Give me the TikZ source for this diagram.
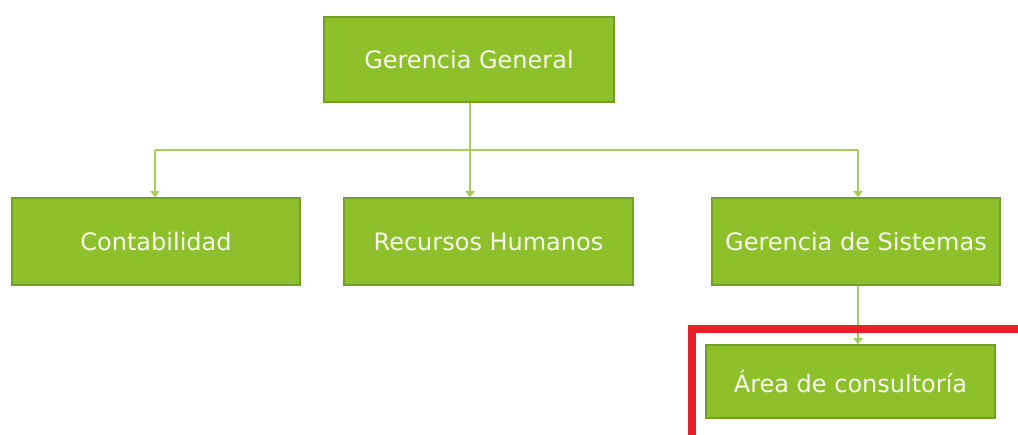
\documentclass[tikz,border=0pt]{standalone}
\usepackage{fontspec}
\setmainfont{DejaVu Sans}
\usetikzlibrary{calc, arrows.meta}

\definecolor{boxgreen}{HTML}{8DC02A}
\definecolor{boxedge}{HTML}{74A021}
\definecolor{linegreen}{HTML}{A6CD5A}
\definecolor{marcred}{HTML}{E8202A}

\tikzset{
	orgbox/.style={rectangle, fill=boxgreen, draw=boxedge, line width=1.5pt, text=white!92!boxgreen, font=\fontsize{24}{28}\selectfont, inner sep=0pt},
	conn/.style={-{Triangle[width=9pt,length=6pt]}, line width=1.4pt, color=linegreen},
	bus/.style={-, line width=1.4pt, color=linegreen}
}

\begin{document}
\begin{tikzpicture}[x=1pt, y=1pt]
	
	\useasboundingbox (0,0) rectangle (1018,434);
	
	\node[orgbox, minimum width=290pt, minimum height=85pt] (gerencia) at (469,374.5) {Gerencia General};
	
	\node[orgbox, minimum width=288pt, minimum height=87pt] (contab) at (156,192.5) {Contabilidad};
	\node[orgbox, minimum width=289pt, minimum height=87pt] (rrhh) at (488.5,192.5) {Recursos Humanos};
	\node[orgbox, minimum width=288pt, minimum height=87pt] (sistemas) at (856,192.5) {Gerencia de Sistemas};
	
	\node[orgbox, minimum width=289pt, minimum height=73pt] (consult) at (850.5,52.5) {Área de consultoría};
	
	\coordinate (busL) at (155,284);
	\coordinate (busR) at (858,284);
	
	\draw[conn] (gerencia.south -| 470,0) -- (470,0 |- rrhh.north);
	\draw[bus] (busL) -- (busR);
	\draw[conn] (busL) -- (busL |- contab.north);
	\draw[conn] (busR) -- (busR |- sistemas.north);
	\draw[conn] (sistemas.south -| busR) -- (busR |- consult.north);
	
	\draw[line width=8pt, color=marcred] (692,105) rectangle (1040,-20);
	
\end{tikzpicture}
\end{document}
